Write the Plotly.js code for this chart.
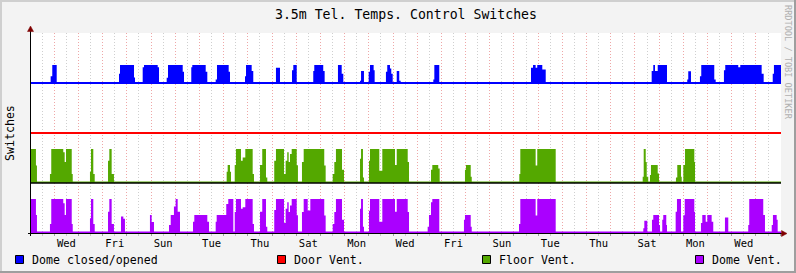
<!DOCTYPE html>
<html>
<head>
<meta charset="utf-8">
<script src="https://cdn.plot.ly/plotly-3.0.1.min.js"></script>
<style>
html,body{margin:0;padding:0;background:#F3F3F3;}
#chart{width:796px;height:273px;}
</style>
</head>
<body>
<div id="chart"></div>
<script>
// ---------------- DATA ----------------
// time axis: hours relative to the first midnight (Wed 00:00) shown in the graph
var timeStart = -23.1;
var timeEnd = 720.9;
var dayLabels = ["Wed","Fri","Sun","Tue","Thu","Sat","Mon","Wed","Fri","Sun","Tue","Thu","Sat","Mon","Wed"];
var dayLabelHours = [12,60,108,156,204,252,300,348,396,444,492,540,588,636,684];

var seriesNames = ["Dome closed/opened","Door Vent.","Floor Vent.","Dome Vent."];
var seriesColors = ["#0000FF","#FF0000","#54A800","#AA00FF"];

// Dome closed/opened (fraction of time open, step changes)
var domeX = [-23.1,
  -3.6,-2.0,2.4,
  64.2,65.2,79.1,80.1,
  87.7,89.0,102.6,103.9,
  111.5,112.8,127.4,128.7,
  135.9,136.9,150.2,151.8,
  160.1,161.4,173.0,174.3,
  189.2,190.2,195.8,197.4,
  219.9,223.9,
  235.8,237.1,240.5,
  256.9,257.9,266.8,268.2,
  281.4,285.1,286.7,
  303.3,304.3,307.2,
  311.9,313.2,316.8,317.8,
  329.0,330.3,333.0,334.3,335.7,
  339.7,342.2,343.6,
  376.0,377.0,381.9,
  472.9,474.9,477.5,479.1,484.1,487.5,
  592.6,594.2,595.9,598.6,607.8,
  627.9,628.9,631.6,
  640.5,641.8,654.7,656.1,
  664.3,665.6,678.5,680.5,701.7,703.7,
  712.7,713.9,720.9];
var domeV = [0,
  0.38,1,0,
  0.52,1,0.3,0,
  0.87,1,0.87,0,
  0.29,1,0.62,0,
  0.87,1,0.62,0,
  0.19,1,0.62,0,
  0.38,1,0.67,0,
  0.85,0,
  0.71,1,0,
  0.67,1,0.67,0,
  1,0.52,0,
  0.13,0.67,0,
  0.62,1,0.71,0,
  0.62,1,0.81,0.52,0,
  0.67,0.13,0,
  0.19,1,0,
  0.85,1,0.85,1,0.75,0,
  0.67,1,0.67,1,0,
  0.19,0.65,0,
  0.38,1,0.2,0,
  0.71,1,0.87,1,0.52,0,
  0.52,1,1];

// Door Vent. (never switched)
var doorX = [-23.1,720.9];
var doorV = [0,0];

// Floor Vent.
var floorX = [-23.1,-18.2,-17.2,
  -4.3,-3.0,8.9,10.3,11.6,17.3,18.3,
  35.4,36.4,38.7,40.1,
  53.3,54.6,56.9,59.2,
  171.0,172.0,174.3,175.3,
  179.0,180.2,185.2,186.9,189.5,196.8,198.1,
  204.1,206.3,210.0,211.3,
  218.2,219.9,227.9,229.5,231.1,232.5,233.8,235.5,240.5,241.7,
  245.7,247.4,267.8,269.2,
  276.2,277.8,279.4,285.4,287.4,
  303.3,304.3,306.2,307.2,
  312.2,313.2,322.4,325.4,338.0,339.7,350.6,351.9,
  373.7,375.0,380.9,382.3,
  407.4,408.4,413.1,414.1,
  461.3,462.3,477.5,479.1,497.4,
  583.7,584.7,586.7,587.7,589.2,
  590.9,591.9,598.6,599.9,
  616.7,618.0,621.7,622.4,
  624.0,625.7,634.9,635.6,
  720.9];
var floorV = [1,0.49,0,
  0.23,1,0.9,0.6,1,0.23,0,
  0.3,1,0.23,0,
  0.64,1,0.23,0,
  0.3,0.51,0.3,0,
  0.51,1,0.64,0.74,1,0.23,0,
  0.51,1,0.12,0,
  0.64,1,0.23,0.64,0.9,0.6,0.85,1,0.5,0,
  0.6,1,0.49,0,
  0.23,0.6,1,0.36,0,
  0.7,1,0.12,0,
  0.64,1,0.33,1,0.51,1,0.6,0,
  0.36,0.51,0.4,0,
  0.36,0.51,0.15,0,
  0.23,1,0.49,1,0,
  0.15,1,0.6,0.15,0,
  0.2,0.51,0.25,0,
  0.12,0.51,0.15,0,
  0.51,1,0.6,0,
  0];

// Dome Vent.
var ventX = [-23.1,-18.2,-17.2,
  -4.3,-3.0,8.9,10.3,11.6,17.3,18.3,
  35.4,36.4,38.7,40.1,
  53.3,54.6,56.9,59.2,
  66.2,68.5,70.1,
  94.9,96.6,98.9,
  113.8,115.5,118.7,120.4,122.4,124.7,
  137.6,138.9,151.8,153.5,
  160.1,161.1,170.6,172.6,177.6,
  179.0,180.2,185.2,186.9,189.5,196.8,198.1,
  204.1,206.3,210.0,211.3,
  218.2,219.9,227.9,229.5,231.1,232.5,233.8,235.5,240.5,241.7,
  245.7,247.4,251.4,254.0,267.8,269.2,
  276.2,277.8,279.4,285.4,287.4,
  303.3,304.3,306.2,307.2,
  312.2,313.2,322.4,325.4,338.0,339.7,350.6,351.9,
  370.4,371.7,373.7,375.0,381.9,
  406.4,407.4,413.1,414.1,
  461.0,462.3,477.5,479.1,497.4,
  584.3,585.3,588.3,
  592.9,594.2,599.9,600.9,
  603.1,604.1,607.1,607.8,
  616.4,617.7,621.7,624.0,625.4,634.9,635.6,
  641.5,642.8,646.2,647.8,652.1,653.7,
  665.3,668.6,
  688.4,689.4,703.3,705.0,
  711.7,712.9,716.6,717.6,
  720.9];
var ventV = [1,0.51,0,
  0.23,1,0.87,0.51,1,0.23,0,
  0.41,1,0.23,0,
  0.61,1,0.23,0,
  0.46,0.39,0,
  0.51,0.29,0,
  0.2,0.51,0.77,1,0.61,0,
  0.3,0.51,0.3,0,
  0.3,0.51,0.85,1,0,
  0.6,1,0.7,0.75,1,0.23,0,
  0.61,1,0.15,0,
  0.66,1,0.26,0.7,0.9,0.6,0.8,1,0.5,0,
  0.6,1,0.65,1,0.49,0,
  0.23,0.6,1,0.36,0,
  0.7,1,0.15,0,
  0.64,1,0.3,1,0.61,1,0.6,0,
  0.15,0.51,0.9,1,0,
  0.36,0.51,0.15,0,
  0.23,1,0.49,1,0,
  0.1,0.33,0,
  0.36,0.51,0.2,0,
  0.36,0.51,0.2,0,
  0.61,1,0,0.5,1,0.6,0,
  0.26,0.51,0.3,0.51,0.3,0,
  0.43,0,
  0.2,1,0.51,0,
  0.2,0.51,0.36,0,
  0];

// ---------------- LAYOUT CONSTANTS ----------------
var M = {l:31, r:15, t:33, b:40};
var W = 796 - M.l - M.r, H = 273 - M.t - M.b;
function PX(px){ return (px - M.l) / W; }
function PY(py){ return (M.t + H - py) / H; }
var MONO = "DejaVu Sans Mono, Liberation Mono, monospace";
var bandBase = {dome:3, door:2, floor:1, vent:0};
var domeScale = 0.36, ventOff = 0.03, ventScale = 0.65;

var traces = [];
// Dome Vent. area (bottom band)
traces.push({x: ventX, y: ventV.map(function(v){return bandBase.vent + ventOff + v*ventScale;}),
  mode:'lines', line:{width:0, shape:'hv'}, fill:'tozeroy', fillcolor: seriesColors[3], hoverinfo:'skip'});
// Floor Vent. baseline + area
traces.push({x:[timeStart,timeEnd], y:[bandBase.floor,bandBase.floor], mode:'lines', line:{width:0}, hoverinfo:'skip'});
traces.push({x: floorX, y: floorV.map(function(v){return bandBase.floor + ventOff + v*ventScale;}),
  mode:'lines', line:{width:0, shape:'hv'}, fill:'tonexty', fillcolor: seriesColors[2], hoverinfo:'skip'});
traces.push({x:[timeStart,timeEnd], y:[bandBase.floor,bandBase.floor], mode:'lines', line:{width:1.5,color:'#000'}, hoverinfo:'skip'});
// Door Vent. line
traces.push({x: doorX, y: doorV.map(function(v){return bandBase.door + v;}), mode:'lines',
  line:{width:2, color: seriesColors[1], shape:'hv'}, hoverinfo:'skip'});
// Dome closed/opened baseline + area
traces.push({x:[timeStart,timeEnd], y:[bandBase.dome,bandBase.dome], mode:'lines', line:{width:2,color:seriesColors[0]}, hoverinfo:'skip'});
traces.push({x: domeX, y: domeV.map(function(v){return bandBase.dome + v*domeScale;}),
  mode:'lines', line:{width:0, shape:'hv'}, fill:'tonexty', fillcolor: seriesColors[0], hoverinfo:'skip'});
// carrier for day labels axis
traces.push({x: dayLabelHours, y: dayLabelHours.map(function(){return null;}), xaxis:'x2', mode:'lines', hoverinfo:'skip'});

var shapes = [];
var annotations = [];
// frame of the image
shapes.push({type:'line', xref:'paper', yref:'paper', x0:PX(0), x1:PX(796), y0:PY(1), y1:PY(1), line:{color:'#CFCFCF', width:2}});
shapes.push({type:'line', xref:'paper', yref:'paper', x0:PX(1), x1:PX(1), y0:PY(0), y1:PY(273), line:{color:'#CFCFCF', width:2}});
shapes.push({type:'line', xref:'paper', yref:'paper', x0:PX(0), x1:PX(796), y0:PY(272), y1:PY(272), line:{color:'#9E9E9E', width:2}});
shapes.push({type:'line', xref:'paper', yref:'paper', x0:PX(795), x1:PX(795), y0:PY(0), y1:PY(273), line:{color:'#9E9E9E', width:2}});
// axes with arrows
shapes.push({type:'line', xref:'paper', yref:'paper', x0:PX(30.5), x1:PX(30.5), y0:PY(236), y1:PY(29), line:{color:'#000', width:1}});
shapes.push({type:'line', xref:'paper', yref:'paper', x0:PX(28), x1:PX(783), y0:PY(233.5), y1:PY(233.5), line:{color:'#000', width:1}});
shapes.push({type:'path', xref:'paper', yref:'paper', path:'M'+PX(27.5)+','+PY(31.5)+' L'+PX(30.5)+','+PY(26)+' L'+PX(33.5)+','+PY(31.5)+' Z', fillcolor:'#7F0000', line:{color:'#7F0000', width:0.5}});
shapes.push({type:'path', xref:'paper', yref:'paper', path:'M'+PX(781.5)+','+PY(230.5)+' L'+PX(787)+','+PY(233.5)+' L'+PX(781.5)+','+PY(236.5)+' Z', fillcolor:'#7F0000', line:{color:'#7F0000', width:0.5}});

// legend
var legendBoxPx = [15, 277, 482, 695];
for (var i=0;i<seriesNames.length;i++){
  shapes.push({type:'rect', xref:'paper', yref:'paper', x0:PX(legendBoxPx[i]+0.5), x1:PX(legendBoxPx[i]+8.5), y0:PY(255.5), y1:PY(263.5),
    fillcolor: seriesColors[i], line:{color:'#000', width:1}});
  annotations.push({text: seriesNames[i], xref:'paper', yref:'paper', x:PX(legendBoxPx[i]+15), y:PY(259.5), xanchor:'left', yanchor:'middle',
    showarrow:false, font:{family:MONO, size:11.6, color:'#000'}});
}
// y title
annotations.push({text:'Switches', xref:'paper', yref:'paper', x:PX(10), y:PY(133), textangle:-90, xanchor:'center', yanchor:'middle',
  showarrow:false, font:{family:MONO, size:11.6, color:'#000'}});
// watermark
annotations.push({text:'RRDTOOL / TOBI OETIKER', xref:'paper', yref:'paper', x:PX(788), y:PY(62), textangle:90, xanchor:'center', yanchor:'middle',
  showarrow:false, font:{family:MONO, size:8.6, color:'#B0B0B0'}});

var layout = {
  width:796, height:273,
  margin:{l:M.l, r:M.r, t:M.t, b:M.b, pad:0},
  paper_bgcolor:'#F3F3F3', plot_bgcolor:'#FFFFFF',
  showlegend:false,
  title:{text:'3.5m Tel. Temps. Control Switches', x:0.5, xref:'paper', xanchor:'center', y:1-14/273, yref:'container', yanchor:'middle',
    font:{family:MONO, size:13.2, color:'#000'}},
  xaxis:{range:[timeStart,timeEnd], tickmode:'linear', tick0:0, dtick:24, showticklabels:false,
    showgrid:true, gridcolor:'rgba(222,80,80,0.5)', griddash:'1px,2px', gridwidth:1,
    zeroline:false, showline:false, ticks:'outside', ticklen:2, tickcolor:'#A0A0A0',
    minor:{tick0:12, dtick:24, showgrid:true, gridcolor:'#CFCFCF', griddash:'1px,2px', gridwidth:1, ticks:'outside', ticklen:2, tickcolor:'#C8C8C8'},
    fixedrange:true},
  xaxis2:{overlaying:'x', matches:'x', anchor:'y', side:'bottom', range:[timeStart,timeEnd],
    tickmode:'array', tickvals:dayLabelHours, ticktext:dayLabels, showgrid:false, zeroline:false, showline:false, ticks:'',
    tickfont:{family:MONO, size:10.5, color:'#000'}, ticklabelstandoff:2, fixedrange:true},
  yaxis:{range:[0,4], showgrid:false, zeroline:false, showticklabels:false, ticks:'', showline:false, fixedrange:true},
  shapes:shapes,
  annotations:annotations,
  hovermode:false
};

Plotly.newPlot('chart', traces, layout, {displayModeBar:false, staticPlot:true});
</script>
</body>
</html>
